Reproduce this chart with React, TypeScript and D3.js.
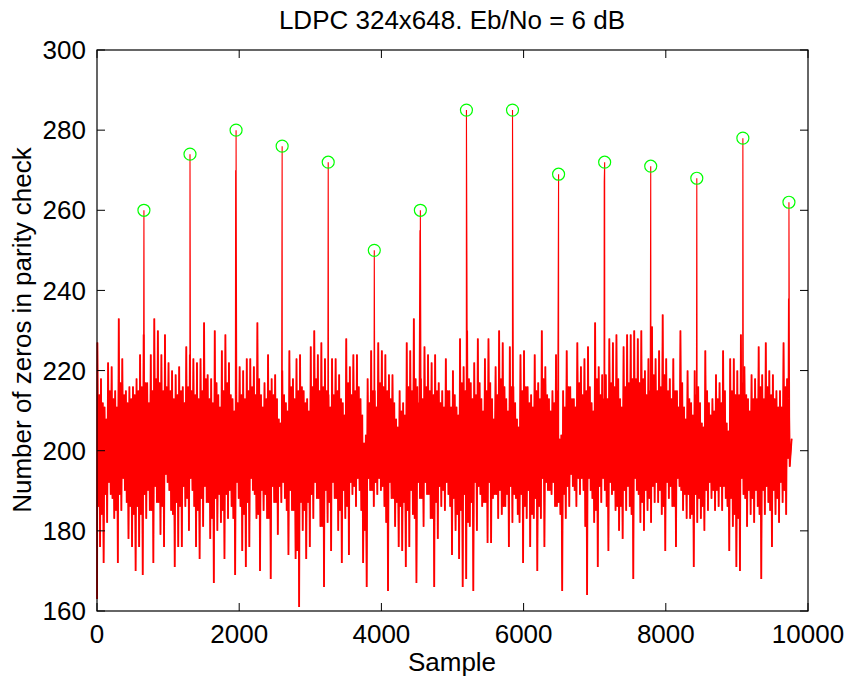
import React from 'react';
import * as d3 from 'd3';

// ---------- data ----------
const xTicks = [0, 2000, 4000, 6000, 8000, 10000];
const yTicks = [160, 180, 200, 220, 240, 260, 280, 300];

const titleText = 'LDPC 324x648. Eb/No = 6 dB';
const xLabel = 'Sample';
const yLabel = 'Number of zeros in parity check';

// per 50-sample bin: highest and lowest excursions of the trace
const binSize = 50;
const hiValues = [
  227, 218, 211, 222, 221, 215, 233, 223, 215, 216, 216, 218, 224, 229, 217, 224, 233, 230, 224, 229,
  222, 220, 219, 221, 216, 226, 224, 223, 222, 223, 232, 219, 218,
  230, 214, 225, 229, 222, 213, 214, 221, 220, 223, 223, 221, 232, 214, 217, 224, 218, 219, 208, 220,
  212, 225, 218, 223, 224, 215, 213, 226, 230, 224, 227, 223, 214, 223,
  223, 219, 212, 228, 221, 224, 224, 213, 202, 218, 225, 215, 227, 225, 224, 219, 219, 208, 215, 212,
  227, 225, 233, 216, 218, 226, 224, 222, 224, 217, 215, 223, 215, 220,
  211, 228, 221, 230, 217, 222, 228, 213, 223, 228, 213, 221, 230, 227, 213, 226, 216, 208, 224, 225,
  216, 214, 224, 217, 230, 221, 213, 215, 224, 203, 215, 225, 216, 213,
  227, 221, 223, 226, 212, 232, 221, 219, 219, 228, 227, 229, 213, 226, 229, 229, 230, 228, 230, 220,
  223, 231, 223, 225, 234, 223, 218, 223, 215, 230, 211, 220, 212, 220,
  216, 207, 225, 212, 213, 219, 217, 225, 207, 223, 223, 220, 229, 221, 213, 219, 218, 226, 219, 227,
  220, 219, 215, 215, 227, 218,
];
const loValues = [
  176, 172, 182, 189, 183, 172, 185, 190, 178, 176, 170, 176, 169, 183, 185, 172, 187, 179, 176, 192,
  185, 171, 176, 176, 186, 180, 190, 176, 173, 181, 187, 178, 167,
  180, 182, 173, 183, 186, 169, 188, 175, 171, 176, 190, 183, 170, 185, 183, 168, 187, 179, 187, 188,
  174, 185, 173, 161, 180, 173, 176, 183, 188, 181, 166, 182, 175, 188,
  180, 172, 183, 174, 189, 186, 190, 172, 166, 190, 186, 189, 190, 186, 165, 188, 181, 176, 175, 171,
  176, 184, 167, 188, 181, 189, 183, 166, 178, 186, 185, 189, 174, 180,
  173, 166, 168, 181, 165, 180, 189, 187, 177, 177, 189, 183, 184, 186, 176, 182, 188, 182, 172, 183,
  176, 183, 170, 183, 176, 190, 189, 186, 187, 165, 183, 186, 191, 186,
  189, 190, 164, 190, 182, 171, 187, 190, 175, 189, 185, 180, 178, 185, 186, 168, 190, 182, 180, 185,
  182, 187, 187, 184, 175, 188, 186, 176, 191, 185, 183, 183, 171, 182,
  183, 180, 185, 188, 185, 186, 185, 188, 175, 181, 171, 170, 189, 181, 184, 182, 186, 168, 184, 187,
  176, 184, 182, 187, 184, 196,
];

// per 50-sample bin: the ragged edges of the dense part of the band
const innerHi = [
  214, 212, 208, 215, 213, 211, 217, 214, 212, 213, 214, 215, 216, 217, 212, 215, 218, 217, 215, 216,
  215, 213, 214, 215, 212, 216, 215, 214, 213, 215, 218, 213, 212, 217, 211, 215, 217, 214, 210, 212,
  214, 213, 215, 216, 214, 218, 211, 213, 215, 214, 213, 207, 214, 210, 216, 213, 215, 216, 212, 210,
  216, 218, 215, 216, 215, 211, 214, 215, 213, 209, 217, 214, 215, 216, 209, 204, 212, 215, 211, 217,
  216, 215, 213, 212, 206, 210, 209, 216, 215, 218, 212, 213, 216, 215, 214, 215, 212, 211, 215, 211,
  214, 209, 217, 215, 218, 213, 214, 217, 210, 215, 217, 208, 214, 218, 216, 210, 216, 212, 206, 215,
  216, 212, 211, 215, 213, 218, 214, 210, 212, 215, 204, 211, 216, 213, 211, 217, 214, 215, 216, 210,
  218, 214, 213, 213, 217, 216, 218, 211, 216, 217, 218, 218, 217, 218, 214, 215, 219, 215, 216, 219,
  215, 213, 215, 211, 217, 208, 213, 209, 214, 212, 206, 215, 209, 210, 213, 212, 215, 205, 215, 214,
  214, 217, 214, 210, 213, 213, 216, 213, 216, 214, 213, 211, 211, 216, 213,
];
const innerLo = [
  186, 184, 189, 192, 188, 185, 189, 193, 187, 186, 184, 186, 184, 189, 190, 185, 191, 187, 186, 194,
  190, 184, 187, 186, 191, 188, 193, 186, 185, 188, 191, 187, 183, 188, 189, 185, 189, 190, 183, 192,
  186, 184, 187, 193, 189, 184, 190, 189, 183, 191, 187, 191, 192, 185, 190, 185, 175, 187, 185, 187,
  189, 192, 188, 181, 190, 187, 192, 188, 185, 190, 186, 192, 191, 193, 185, 180, 193, 190, 192, 193,
  191, 182, 192, 188, 187, 186, 187, 185, 190, 183, 192, 188, 192, 189, 183, 187, 191, 190, 192, 186,
  188, 184, 185, 189, 182, 187, 192, 191, 186, 187, 192, 188, 189, 190, 186, 189, 191, 189, 184, 189,
  186, 190, 184, 188, 186, 193, 192, 190, 192, 186, 184, 189, 191, 194, 190, 193, 193, 181, 193, 188,
  185, 191, 193, 186, 192, 190, 186, 186, 190, 191, 184, 193, 189, 187, 190, 188, 191, 192, 190, 186,
  192, 191, 186, 193, 190, 189, 189, 184, 189, 188, 186, 190, 192, 190, 190, 191, 191, 186, 188, 184,
  183, 193, 188, 190, 188, 190, 184, 190, 191, 185, 190, 188, 192, 190, 198,
];

const firstSample = 1;
const firstValue = 163;
const lastSample = 9770;
const lastValue = 203;

// decoding-failure peaks (marked with circles)
const peakSamples = [660, 1308, 1956, 2604, 3252, 3900, 4548, 5196, 5844, 6492, 7140, 7788, 8436, 9084, 9732];
const peakValues = [260, 274, 280, 276, 272, 250, 260, 285, 285, 269, 272, 271, 268, 278, 262];

// tall neighbours next to some peaks
const secondSamples = [1950, 4542, 7134, 9726];
const secondValues = [270, 255, 267, 238];

// ---------- component ----------
const W = 850;
const H = 679;
const X0 = 97;
const X1 = 808;
const Y0 = 50;
const Y1 = 611;
const FONT = '"Liberation Sans", Arial, Helvetica, sans-serif';
const FS = 26;

export default function App() {
  const x = d3.scaleLinear().domain([0, 10000]).range([X0, X1]);
  const y = d3.scaleLinear().domain([160, 300]).range([Y1, Y0]);

  // band points (noise only)
  const band: [number, number][] = [[firstSample, firstValue]];
  hiValues.forEach((v, i) => band.push([i * binSize + 6, v]));
  innerLo.forEach((v, i) => band.push([i * binSize + 18, v]));
  innerHi.forEach((v, i) => band.push([i * binSize + 31, v]));
  loValues.forEach((v, i) => band.push([i * binSize + 43, v]));
  band.push([lastSample, lastValue]);
  band.sort((a, b) => a[0] - b[0]);

  // full trace including the peaks
  const all: [number, number][] = band.slice();
  peakSamples.forEach((s, i) => all.push([s, peakValues[i]]));
  secondSamples.forEach((s, i) => all.push([s, secondValues[i]]));
  all.sort((a, b) => a[0] - b[0]);

  const line = d3
    .line<[number, number]>()
    .x((d) => x(d[0]))
    .y((d) => y(d[1]));

  const tickLen = 8;

  return (
    <svg
      width={W}
      height={H}
      viewBox={`0 0 ${W} ${H}`}
      style={{ position: 'absolute', left: 0, top: 0, background: '#fff', display: 'block' }}
      fontFamily={FONT}
    >
      <rect x={0} y={0} width={W} height={H} fill="#fff" />

      {/* trace */}
      <path
        d={line(band) || ''}
        fill="none"
        stroke="#ff0000"
        strokeWidth={1.8}
        strokeLinejoin="miter"
        strokeMiterlimit={2}
      />
      <path d={line(all) || ''} fill="none" stroke="#ff0000" strokeWidth={1.1} />

      {/* peak markers */}
      {peakSamples.map((s, i) => (
        <circle
          key={'c' + i}
          cx={x(s)}
          cy={y(peakValues[i])}
          r={6}
          fill="none"
          stroke="#00ff00"
          strokeWidth={1.2}
        />
      ))}

      {/* axes box */}
      <rect x={X0} y={Y0} width={X1 - X0} height={Y1 - Y0} fill="none" stroke="#000" strokeWidth={1.2} />

      {/* x ticks */}
      {xTicks.map((t) => (
        <g key={'x' + t}>
          <line x1={x(t)} x2={x(t)} y1={Y1} y2={Y1 - tickLen} stroke="#000" strokeWidth={1} />
          <line x1={x(t)} x2={x(t)} y1={Y0} y2={Y0 + tickLen} stroke="#000" strokeWidth={1} />
          <text x={x(t)} y={643} textAnchor="middle" fontSize={FS} fill="#000">
            {t}
          </text>
        </g>
      ))}

      {/* y ticks */}
      {yTicks.map((t) => (
        <g key={'y' + t}>
          <line x1={X0} x2={X0 + tickLen} y1={y(t)} y2={y(t)} stroke="#000" strokeWidth={1} />
          <line x1={X1} x2={X1 - tickLen} y1={y(t)} y2={y(t)} stroke="#000" strokeWidth={1} />
          <text x={86} y={y(t)} dy="0.35em" textAnchor="end" fontSize={FS} fill="#000">
            {t}
          </text>
        </g>
      ))}

      {/* labels */}
      <text x={452} y={29} textAnchor="middle" fontSize={FS} fill="#000">
        {titleText}
      </text>
      <text x={452} y={671} textAnchor="middle" fontSize={FS} fill="#000">
        {xLabel}
      </text>
      <text transform="translate(31,330) rotate(-90)" textAnchor="middle" fontSize={FS} fill="#000">
        {yLabel}
      </text>
    </svg>
  );
}
